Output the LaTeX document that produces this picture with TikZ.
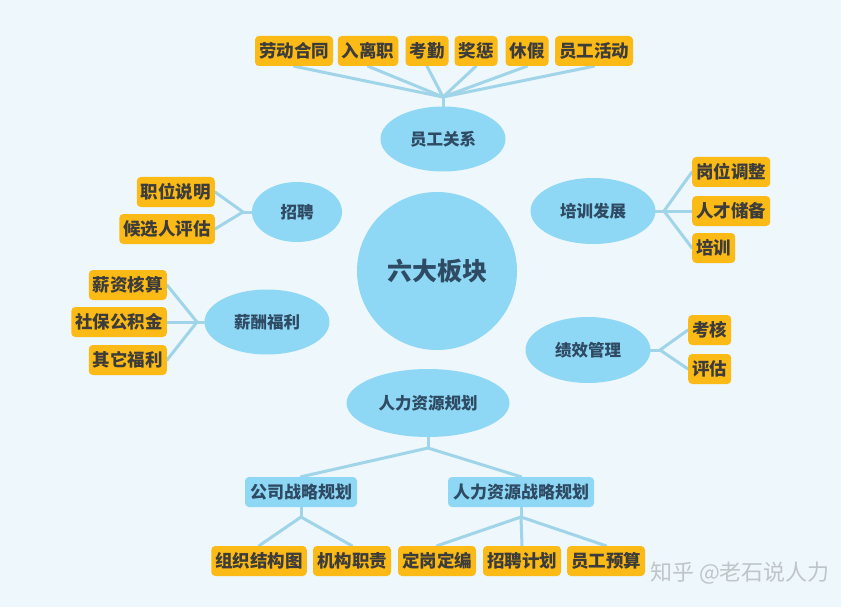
\documentclass[tikz,border=0pt]{standalone}
\usepackage{fontspec}
\newfontfamily\cjk{Noto Sans CJK SC}
\usetikzlibrary{shapes.geometric}
\pgfdeclarelayer{bg}
\pgfsetlayers{bg,main}
\definecolor{bgc}{HTML}{EEF7FB}
\definecolor{ellc}{HTML}{8ED8F5}
\definecolor{boxc}{HTML}{FBBA15}
\definecolor{boxt}{HTML}{3C3C3C}
\definecolor{ellt}{HTML}{2F4A63}
\definecolor{linec}{HTML}{9FD4E9}
\definecolor{wmc}{HTML}{BFC5C9}
\tikzset{
  ell/.style={ellipse, fill=ellc, inner sep=0pt, text=ellt, font=\cjk\bfseries\fontsize{16.5}{18}\selectfont},
  leaf/.style={rectangle, rounded corners=4pt, fill=boxc, text=boxt, inner xsep=4pt, inner ysep=0pt, minimum height=30pt, font=\cjk\bfseries\fontsize{17.5}{19}\selectfont},
  sub/.style={rectangle, rounded corners=4pt, fill=ellc, text=ellt, inner xsep=5pt, inner ysep=0pt, minimum height=30pt, font=\cjk\bfseries\fontsize{17}{19}\selectfont},
  conn/.style={draw=linec, line width=3pt, line cap=round, line join=round}
}
\begin{document}
\begin{tikzpicture}[x=1pt,y=-1pt]
\useasboundingbox (0,0) rectangle (841,607);
\begin{pgfonlayer}{bg}
\fill[bgc] (0,0) rectangle (841,607);
\end{pgfonlayer}

% junction points
\coordinate (jrel) at (443,97);
\coordinate (jzp) at (243,212);
\coordinate (jxc) at (197,322);
\coordinate (jpx) at (664,211);
\coordinate (jjx) at (660,350);
\coordinate (jgh) at (428,448);
\coordinate (jgs) at (301,517);
\coordinate (jrz) at (521,517);

% ellipses
\node[ell, minimum width=160pt, minimum height=158pt, font=\cjk\bfseries\fontsize{25}{28}\selectfont] (center) at (437,271) {六大板块};
\node[ell, minimum width=125pt, minimum height=65pt] (rel) at (443,139) {员工关系};
\node[ell, minimum width=90pt, minimum height=60pt] (zp) at (297,212) {招聘};
\node[ell, minimum width=125pt, minimum height=65pt] (xc) at (267,322) {薪酬福利};
\node[ell, minimum width=125pt, minimum height=66pt] (px) at (593,211) {培训发展};
\node[ell, minimum width=125pt, minimum height=66pt] (jx) at (588,350) {绩效管理};
\node[ell, minimum width=163pt, minimum height=68pt] (gh) at (428,403) {人力资源规划};

% top leaves
\node[leaf] (r1) at (294,51) {劳动合同};
\node[leaf] (r2) at (368,51) {入离职};
\node[leaf] (r3) at (427,51) {考勤};
\node[leaf] (r4) at (476,51) {奖惩};
\node[leaf] (r5) at (527,51) {休假};
\node[leaf] (r6) at (594,51) {员工活动};

% recruitment
\node[leaf, anchor=east] (z1) at (215,192) {职位说明};
\node[leaf, anchor=east] (z2) at (215,229) {候选人评估};

% compensation
\node[leaf, anchor=east] (x1) at (167,285) {薪资核算};
\node[leaf, anchor=east] (x2) at (167,322) {社保公积金};
\node[leaf, anchor=east] (x3) at (167,360) {其它福利};

% training
\node[leaf, anchor=west] (p1) at (692,172) {岗位调整};
\node[leaf, anchor=west] (p2) at (692,211) {人才储备};
\node[leaf, anchor=west] (p3) at (692,248) {培训};

% performance
\node[leaf, anchor=west] (k1) at (688,330) {考核};
\node[leaf, anchor=west] (k2) at (688,369) {评估};

% planning
\node[sub] (gs) at (301,492) {公司战略规划};
\node[sub] (rz) at (521,492) {人力资源战略规划};
\node[leaf] (g1) at (259,561) {组织结构图};
\node[leaf] (g2) at (352,561) {机构职责};
\node[leaf] (h1) at (437,561) {定岗定编};
\node[leaf] (h2) at (522,561) {招聘计划};
\node[leaf] (h3) at (606,561) {员工预算};

% connectors
\begin{pgfonlayer}{bg}
\draw[conn] (rel.north) -- (jrel);
\foreach \b in {r1,r2,r3,r4,r5,r6} \draw[conn] (jrel) -- (\b.south);
\draw[conn] (zp.west) -- (jzp);
\foreach \b in {z1,z2} \draw[conn] (jzp) -- (\b.east);
\draw[conn] (xc.west) -- (jxc);
\foreach \b in {x1,x2,x3} \draw[conn] (jxc) -- (\b.east);
\draw[conn] (px.east) -- (jpx);
\foreach \b in {p1,p2,p3} \draw[conn] (jpx) -- (\b.west);
\draw[conn] (jx.east) -- (jjx);
\foreach \b in {k1,k2} \draw[conn] (jjx) -- (\b.west);
\draw[conn] (gh.south) -- (jgh);
\draw[conn] (jgh) -- (gs.north);
\draw[conn] (jgh) -- (rz.north);
\draw[conn] (gs.south) -- (jgs);
\draw[conn] (jgs) -- (g1.north);
\draw[conn] (jgs) -- (g2.north);
\draw[conn] (rz.south) -- (jrz);
\draw[conn] (jrz) -- (h1.north);
\draw[conn] (jrz) -- (h2.north);
\draw[conn] (jrz) -- (h3.north);
\end{pgfonlayer}

% watermark
\node[text=wmc, font=\cjk\fontsize{22}{24}\selectfont, anchor=west, inner sep=0pt] (wm) at (650,573) {知乎 @老石说人力};
\end{tikzpicture}
\end{document}
